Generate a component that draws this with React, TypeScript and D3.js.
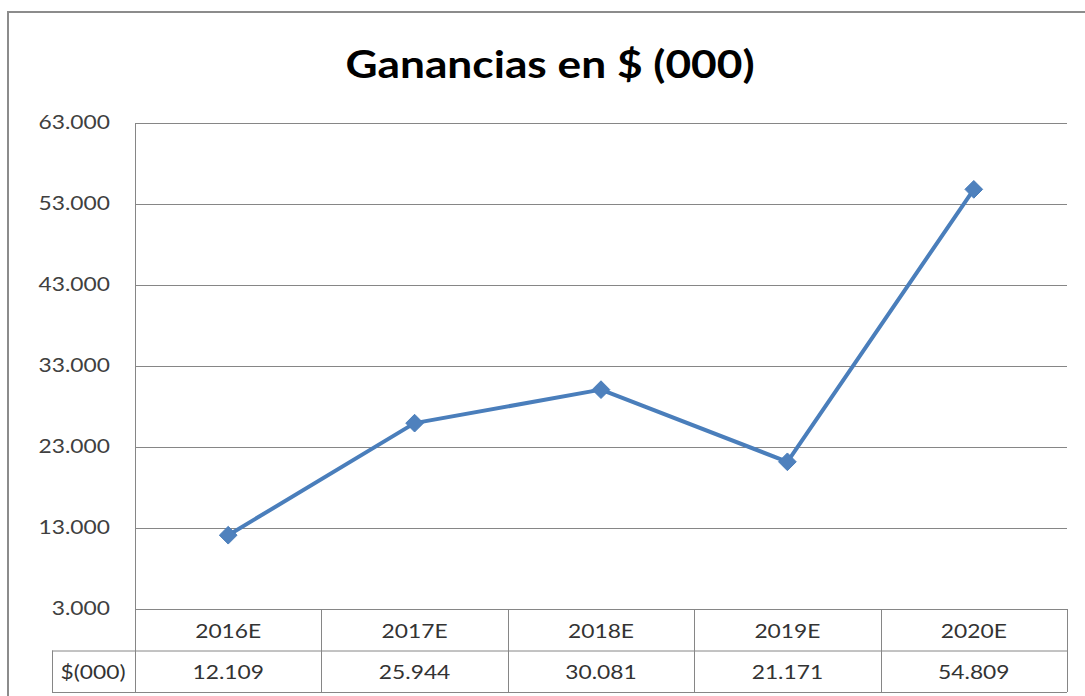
import React, { useEffect, useRef } from 'react';
import * as d3 from 'd3';

const years = ['2016E', '2017E', '2018E', '2019E', '2020E'];
const ganancias = [12109, 25944, 30081, 21171, 54809];
const yTicks = [3000, 13000, 23000, 33000, 43000, 53000, 63000];
const rowLabel = '$(000)';
const title = 'Ganancias en $ (000)';

const esLocale = d3.formatLocale({ decimal: ',', thousands: '.', grouping: [3], currency: ['$', ''] });
const fmt = esLocale.format(',.0f');

const App = () => {
    const svgRef = useRef<SVGSVGElement>(null);

    useEffect(() => {
        const svg = d3.select(svgRef.current);
        svg.selectAll('*').remove();

        const width = 1085;
        const height = 696;
        const plot = { left: 135, top: 123, right: 1067, bottom: 609 };
        const rowH = 41.5;
        const font = 'Lato, sans-serif';
        const grid = '#868686';
        const sx = 1.14; // source picture is stretched horizontally
        const fs = 20;

        // frame
        svg.append('rect')
            .attr('x', 8).attr('y', 12)
            .attr('width', width + 10).attr('height', height + 10)
            .attr('fill', '#fff')
            .attr('stroke', '#8c8c8c')
            .attr('stroke-width', 2);

        svg.append('text')
            .attr('transform', `translate(550,78) scale(1.135,1)`)
            .attr('text-anchor', 'middle')
            .attr('font-family', font)
            .attr('font-weight', 'bold')
            .attr('font-size', 39)
            .attr('fill', '#000')
            .text(title);

        const x = d3.scaleBand().domain(years).range([plot.left, plot.right]);
        const y = d3.scaleLinear().domain([3000, 63000]).range([plot.bottom, plot.top]);

        // gridlines
        svg.append('g').selectAll('line')
            .data(yTicks)
            .join('line')
            .attr('x1', plot.left).attr('x2', plot.right)
            .attr('y1', d => y(d) + 0.5).attr('y2', d => y(d) + 0.5)
            .attr('stroke', grid).attr('stroke-width', 1);

        // y labels
        svg.append('g').selectAll('text')
            .data(yTicks)
            .join('text')
            .attr('transform', d => `translate(110,${y(d) + 6}) scale(${sx},1)`)
            .attr('text-anchor', 'end')
            .attr('font-family', font)
            .attr('font-size', fs)
            .attr('fill', '#404040')
            .text(d => fmt(d));

        // data table
        const tbl = svg.append('g');
        const rowTop = plot.bottom;
        const rowMid = rowTop + rowH;
        const rowBot = rowTop + rowH * 2;
        tbl.append('line')
            .attr('x1', 52).attr('x2', plot.right)
            .attr('y1', rowMid + 0.5).attr('y2', rowMid + 0.5)
            .attr('stroke', grid);
        tbl.append('line')
            .attr('x1', 52).attr('x2', plot.right)
            .attr('y1', rowBot + 0.5).attr('y2', rowBot + 0.5)
            .attr('stroke', grid);
        tbl.append('line')
            .attr('x1', 52.5).attr('x2', 52.5)
            .attr('y1', rowMid).attr('y2', rowBot)
            .attr('stroke', grid);
        tbl.append('line')
            .attr('x1', plot.left + 0.5).attr('x2', plot.left + 0.5)
            .attr('y1', plot.top).attr('y2', rowBot)
            .attr('stroke', grid);
        tbl.selectAll('line.col')
            .data(years)
            .join('line')
            .attr('class', 'col')
            .attr('x1', d => Math.round(x(d)! + x.bandwidth()) + 0.5)
            .attr('x2', d => Math.round(x(d)! + x.bandwidth()) + 0.5)
            .attr('y1', rowTop).attr('y2', rowBot)
            .attr('stroke', grid);

        tbl.selectAll('text.yr')
            .data(years)
            .join('text')
            .attr('class', 'yr')
            .attr('transform', d => `translate(${x(d)! + x.bandwidth() / 2},${rowTop + 29}) scale(${sx},1)`)
            .attr('text-anchor', 'middle')
            .attr('font-family', font)
            .attr('font-size', fs)
            .attr('fill', '#333')
            .text(d => d);

        tbl.selectAll('text.val')
            .data(ganancias)
            .join('text')
            .attr('class', 'val')
            .attr('transform', (d, i) => `translate(${x(years[i])! + x.bandwidth() / 2},${rowMid + 28}) scale(${sx},1)`)
            .attr('text-anchor', 'middle')
            .attr('font-family', font)
            .attr('font-size', fs)
            .attr('fill', '#333')
            .text(d => fmt(d));

        tbl.append('text')
            .attr('transform', `translate(93,${rowMid + 28}) scale(${sx},1)`)
            .attr('text-anchor', 'middle')
            .attr('font-family', font)
            .attr('font-size', fs)
            .attr('fill', '#333')
            .text(rowLabel);

        // line + markers
        const line = d3.line<number>()
            .x((d, i) => x(years[i])! + x.bandwidth() / 2)
            .y(d => y(d));

        svg.append('path')
            .datum(ganancias)
            .attr('d', line)
            .attr('fill', 'none')
            .attr('stroke', '#4a7ebb')
            .attr('stroke-width', 4)
            .attr('stroke-linejoin', 'round');

        const diamond = d3.symbol().type(d3.symbolDiamond2).size(200);
        svg.append('g').selectAll('path')
            .data(ganancias)
            .join('path')
            .attr('transform', (d, i) => `translate(${x(years[i])! + x.bandwidth() / 2},${y(d)})`)
            .attr('d', diamond)
            .attr('fill', '#4f81bd')
            .attr('stroke', '#4a7ebb')
            .attr('stroke-width', 1);
    }, []);

    return (
        <svg ref={svgRef} width="1085" height="696"
            style={{ position: 'absolute', left: 0, top: 0, background: '#fff' }}></svg>
    );
};

export default App;
